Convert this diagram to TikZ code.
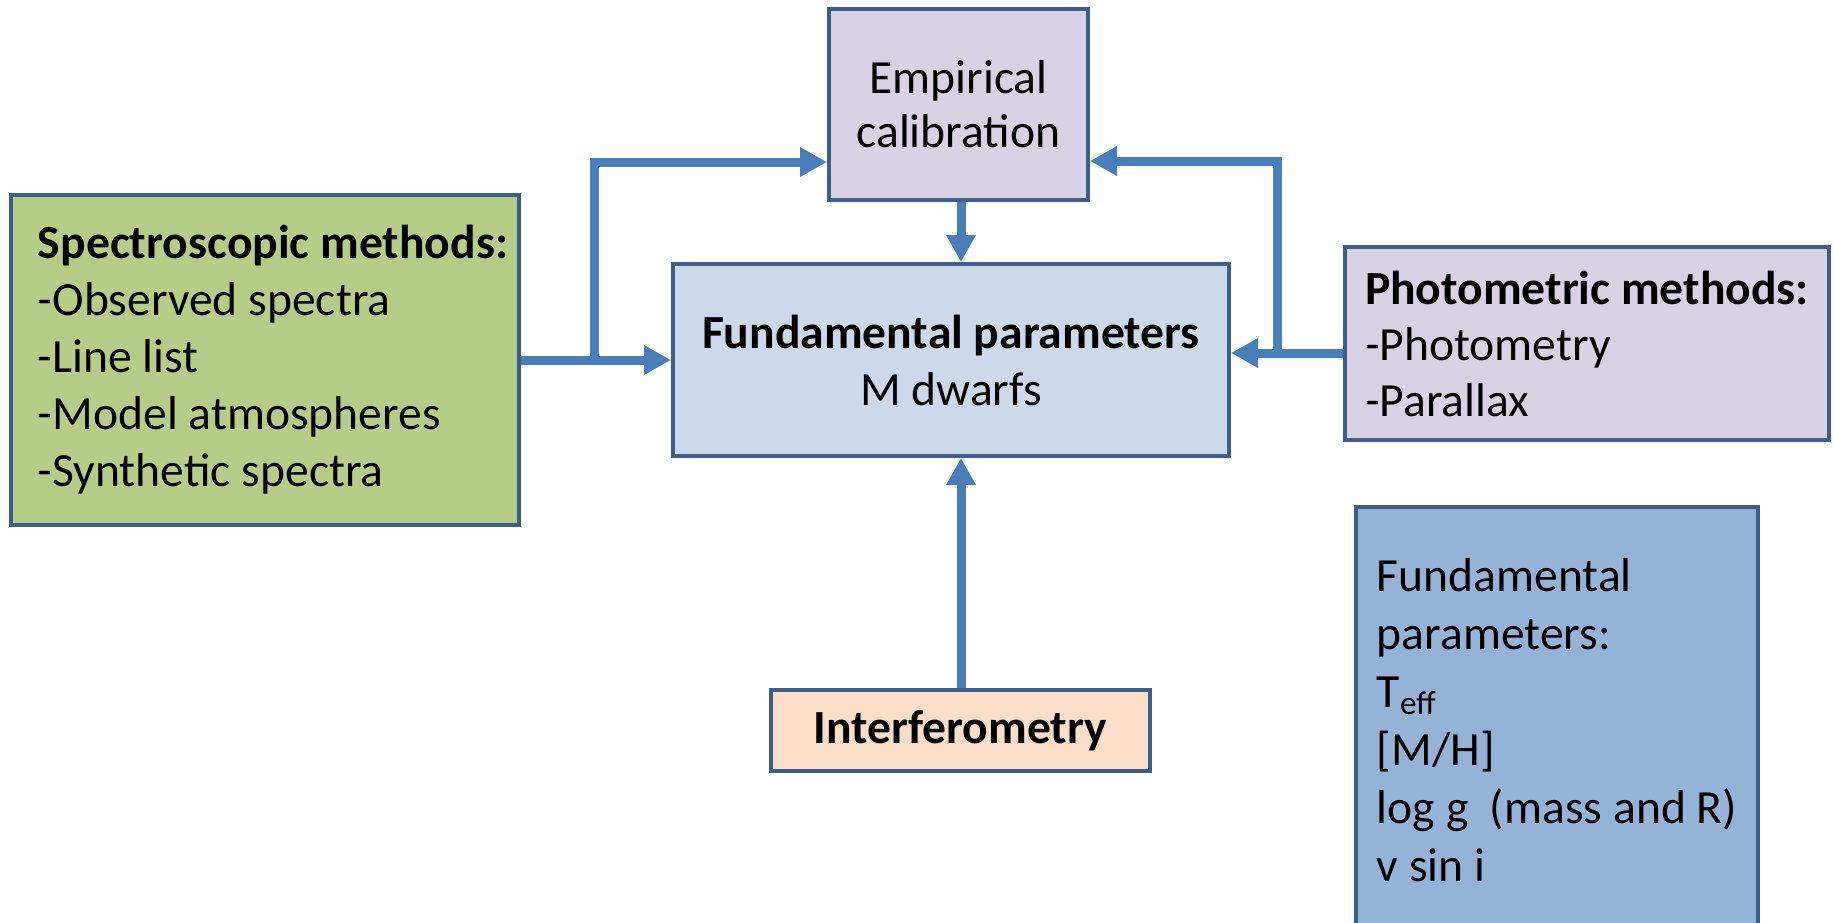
\documentclass[tikz,border=0pt]{standalone}
\usepackage{fontspec}
\setmainfont{Carlito}
\usepackage{tikz}
\usetikzlibrary{arrows.meta,calc}
\definecolor{Edge}{HTML}{3A5F8B}
\definecolor{Flow}{HTML}{4A7EBB}
\definecolor{GreenF}{HTML}{B6CD88}
\definecolor{LilacF}{HTML}{D9D1E4}
\definecolor{PaleF}{HTML}{CCD9EA}
\definecolor{PeachF}{HTML}{FBDEC7}
\definecolor{SkyF}{HTML}{95B3D7}

\begin{document}
\begin{tikzpicture}[x=0.5pt,y=-0.5pt,
    font=\fontsize{23.8}{28.5}\selectfont,
    box/.style={draw=Edge,line width=2pt,inner sep=0pt,align=center},
    flow/.style={draw=Flow,line width=4.5pt,-{Triangle[length=13.5pt,width=14pt]}},
    >=Stealth]
  \useasboundingbox (0,0) rectangle (1833,922);
  \clip (0,0) rectangle (1833,922);
  % boxes
  \node[box,fill=GreenF,minimum width=254pt,minimum height=165pt,
    text width=227pt,inner xsep=13.5pt,align=flush left] (spec) at (265,360)
    {\mbox{\textbf{Spectroscopic methods:}}\\-Observed spectra\\-Line list\\
     -Model atmospheres\\-Synthetic spectra};
  \node[box,fill=LilacF,minimum width=129.5pt,minimum height=95.5pt,
    font=\fontsize{23.8}{27}\selectfont] (calib) at (958.5,104.5)
    {Empirical\\calibration};
  \node[box,fill=PaleF,minimum width=278pt,minimum height=96pt] (fund) at (951,360)
    {\textbf{Fundamental parameters}\\M dwarfs};
  \node[box,fill=LilacF,minimum width=242pt,minimum height=96.5pt,align=left,
    font=\fontsize{23.8}{28}\selectfont] (photo) at (1587,343.5)
    {\textbf{Photometric methods:}\\-Photometry\\-Parallax};
  \node[box,fill=PeachF,minimum width=189.5pt,minimum height=40.5pt] (interf)
    at (960.5,730.5) {\textbf{Interferometry}};
  \node[box,fill=SkyF,minimum width=201pt,minimum height=213pt,align=left,
    font=\fontsize{23.8}{29}\selectfont] (params) at (1557,720)
    {Fundamental\\parameters:\\T\textsubscript{eff}\\{}[M/H]\\log g~~(mass and R)\\v sin i};
  % connectors
  \coordinate (splitL) at (594,360);
  \coordinate (splitR) at (1277,353);
  \coordinate (midx) at (961,0);
  \draw[flow] (spec.east) -- (fund.west);
  \draw[flow] (splitL) |- ($(calib.west)+(0,57.5)$);
  \draw[flow] (photo.west |- splitR) -- (fund.east |- splitR);
  \draw[flow] (splitR) |- ($(calib.east)+(0,56.5)$);
  \draw[flow] (calib.south -| midx) -- (fund.north -| midx);
  \draw[flow] (interf.north -| midx) -- (fund.south -| midx);
\end{tikzpicture}
\end{document}
